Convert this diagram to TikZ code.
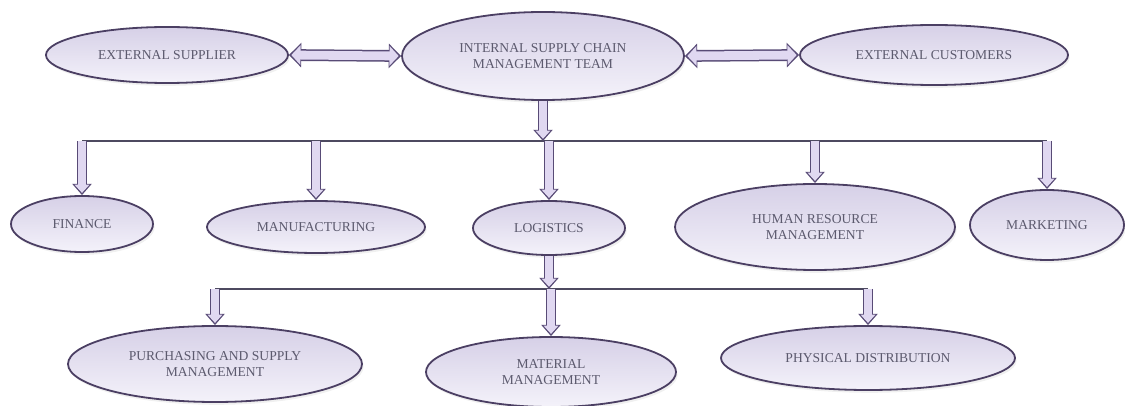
\documentclass[tikz,border=0pt]{standalone}
\usepackage{fontspec}
\setmainfont{Liberation Serif}
\usetikzlibrary{shapes.geometric,arrows.meta,shadows}

\definecolor{rim}{HTML}{4B3F63}
\definecolor{filltop}{HTML}{D6D0E7}
\definecolor{fillbot}{HTML}{F4F2FA}
\definecolor{ink}{HTML}{5C5A6E}
\definecolor{shaft}{HTML}{584B76}
\definecolor{shaftin}{HTML}{E0D8F1}
\definecolor{busline}{HTML}{4D4A60}

\tikzset{
  unit/.style n args={2}{ellipse, draw=rim, line width=0.9pt,
    top color=filltop, bottom color=fillbot,
    drop shadow={opacity=0.12, shadow xshift=0.8pt, shadow yshift=-1.4pt},
    minimum width=#1, minimum height=#2, inner sep=0pt,
    text=ink, font=\fontsize{6.8}{7.7}\selectfont, align=center},
  % hollow block arrow: dark outline drawn first, light core on top
  blk/.style={draw=shaftin, line width=3.7pt, shorten >=1.1pt,
    -{Triangle[length=4.1pt,width=7.2pt]},
    preaction={draw=shaft, line width=5.1pt, shorten >=0pt,
      -{Triangle[length=5.6pt,width=9.4pt]}}},
  blkboth/.style={draw=shaftin, line width=4.4pt, shorten >=1.2pt, shorten <=1.2pt,
    {Triangle[length=4.6pt,width=9.6pt]}-{Triangle[length=4.6pt,width=9.6pt]},
    preaction={draw=shaft, line width=5.9pt, shorten >=0pt, shorten <=0pt,
      {Triangle[length=6.2pt,width=12pt]}-{Triangle[length=6.2pt,width=12pt]}}},
  bus/.style={draw=busline, line width=0.8pt}
}

\begin{document}
\begin{tikzpicture}[x=0.5pt, y=-0.5pt]
  \useasboundingbox (0,0) rectangle (1125,406);

  % top row: the team between its outside partners
  \node[unit={121pt}{28pt}] (sup) at (167,55) {EXTERNAL SUPPLIER};
  \node[unit={141pt}{44pt}] (isc) at (543,56) {INTERNAL SUPPLY CHAIN\\MANAGEMENT TEAM};
  \node[unit={134pt}{30pt}] (cus) at (934,55) {EXTERNAL CUSTOMERS};

  % functional areas
  \node[unit={71pt}{28pt}]  (fin) at (82,224)   {FINANCE};
  \node[unit={109pt}{26pt}] (man) at (316,227)  {MANUFACTURING};
  \node[unit={76pt}{27pt}]  (log) at (549,228)  {LOGISTICS};
  \node[unit={140pt}{43pt}] (hrm) at (815,227)  {HUMAN RESOURCE\\MANAGEMENT};
  \node[unit={77pt}{35pt}]  (mkt) at (1047,225) {MARKETING};

  % parts of logistics
  \node[unit={147pt}{38pt}] (pur) at (215,364) {PURCHASING AND SUPPLY\\MANAGEMENT};
  \node[unit={125pt}{35pt}] (mat) at (551,372) {MATERIAL\\MANAGEMENT};
  \node[unit={147pt}{32pt}] (phy) at (868,358) {PHYSICAL DISTRIBUTION};

  % bus levels
  \coordinate (busA) at (0,141);
  \coordinate (busB) at (0,289);

  % two-way links
  \draw[blkboth] (sup.east) -- (isc.west);
  \draw[blkboth] (isc.east) -- (cus.west);

  % team to functional areas
  \draw[bus] (fin.north |- busA) -- (mkt.north |- busA);
  \draw[blk] (isc.south) -- (isc.south |- busA);
  \foreach \n in {fin,man,log,hrm,mkt}
    \draw[blk] (\n.north |- busA) -- (\n.north);

  % logistics to its parts
  \draw[bus] (pur.north |- busB) -- (phy.north |- busB);
  \draw[blk] (log.south) -- (log.south |- busB);
  \foreach \n in {pur,mat,phy}
    \draw[blk] (\n.north |- busB) -- (\n.north);
\end{tikzpicture}
\end{document}
